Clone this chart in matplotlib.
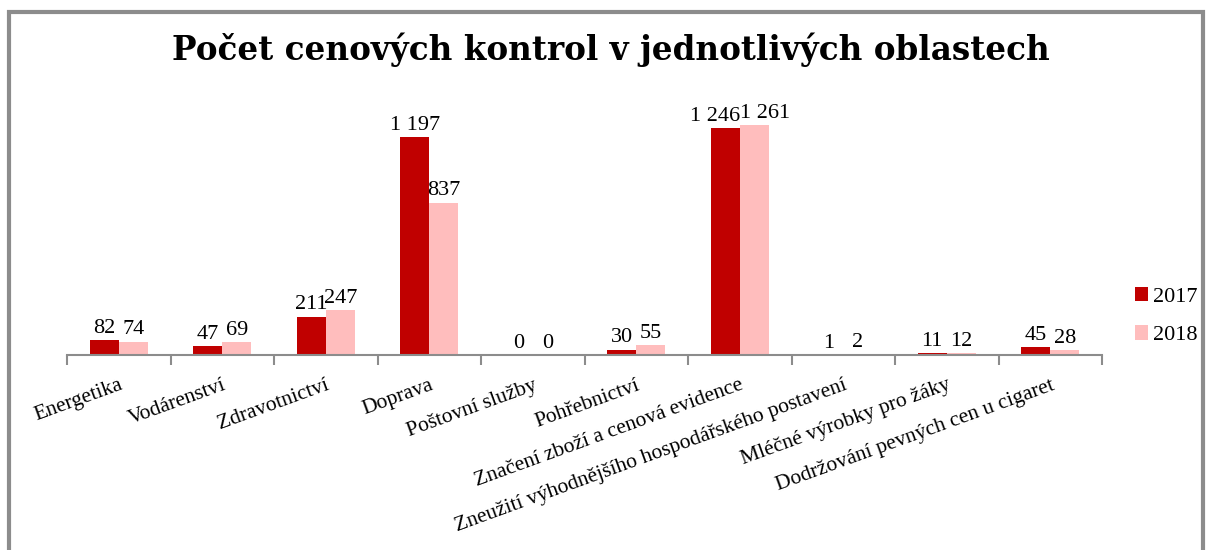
import numpy as np
import matplotlib.pyplot as plt
from matplotlib.patches import Rectangle

categories = ["Energetika", "Vodárenství", "Zdravotnictví", "Doprava", "Poštovní služby",
              "Pohřebnictví", "Značení zboží a cenová evidence",
              "Zneužití výhodnějšího hospodářského postavení",
              "Mléčné výrobky pro žáky", "Dodržování pevných cen u cigaret"]
values_2017 = [82, 47, 211, 1197, 0, 30, 1246, 1, 11, 45]
values_2018 = [74, 69, 247, 837, 0, 55, 1261, 2, 12, 28]
years = ["2017", "2018"]
colors = ["#C00000", "#FFBDBD"]

plt.rcParams['font.family'] = ['Liberation Serif', 'DejaVu Serif']

fig = plt.figure(figsize=(12.08, 5.5), dpi=100)
ax = fig.add_axes([67 / 1208, 1 - 355 / 550, (1102 - 67) / 1208, 255 / 550])

x = np.arange(len(categories))
w = 0.28


def fmt(v):
    return f"{v:,}".replace(",", " ")


for i, (vals, col, yr) in enumerate(zip([values_2017, values_2018], colors, years)):
    pos = x + (i - 0.5) * w
    bars = ax.bar(pos, vals, w, color=col, label=yr)
    for j, (b, v) in enumerate(zip(bars, vals)):
        cx = b.get_x() + b.get_width() / 2
        ha = 'center'
        # labels of neighbouring tall bars would collide, push them apart
        if values_2017[j] >= 1000 and values_2018[j] >= 1000:
            cx = x[j]
            ha = 'right' if i == 0 else 'left'
        ax.text(cx, v + 12, fmt(v), ha=ha, va='bottom', fontsize=16)

ax.set_xlim(-0.5, len(categories) - 0.5)
ax.set_ylim(0, 1400)
ax.set_yticks([])
for s in ['top', 'right', 'left']:
    ax.spines[s].set_visible(False)
ax.spines['bottom'].set_color('#8C8C8C')
ax.spines['bottom'].set_linewidth(1.5)

ax.set_xticks(x)
ax.set_xticklabels(categories, rotation=20, ha='right', rotation_mode='anchor', fontsize=15.5)
ax.tick_params(axis='x', length=0, pad=15)
ax.set_xticks(np.arange(-0.5, len(categories)), minor=True)
ax.tick_params(axis='x', which='minor', length=7, width=1.5, color='#8C8C8C')

leg = ax.legend(loc='center left', bbox_to_anchor=(1135 / 1208, 1 - 316 / 550),
                bbox_transform=fig.transFigure, frameon=False, fontsize=16,
                borderpad=0, borderaxespad=0,
                handlelength=0.6, handleheight=0.6, handletextpad=0.2, labelspacing=0.85)

fig.text(611 / 1208, 1 - 50 / 550, "Počet cenových kontrol v jednotlivých oblastech",
         ha='center', va='center', fontsize=23.5, fontweight='bold',
         family=['DejaVu Serif'])

fig.patches.append(Rectangle((9 / 1208, -0.1), (1203 - 9) / 1208, 1.1 - 12 / 550,
                             transform=fig.transFigure, fill=False,
                             edgecolor='#8C8C8C', linewidth=3))

fig.savefig("out.png", dpi=100)
